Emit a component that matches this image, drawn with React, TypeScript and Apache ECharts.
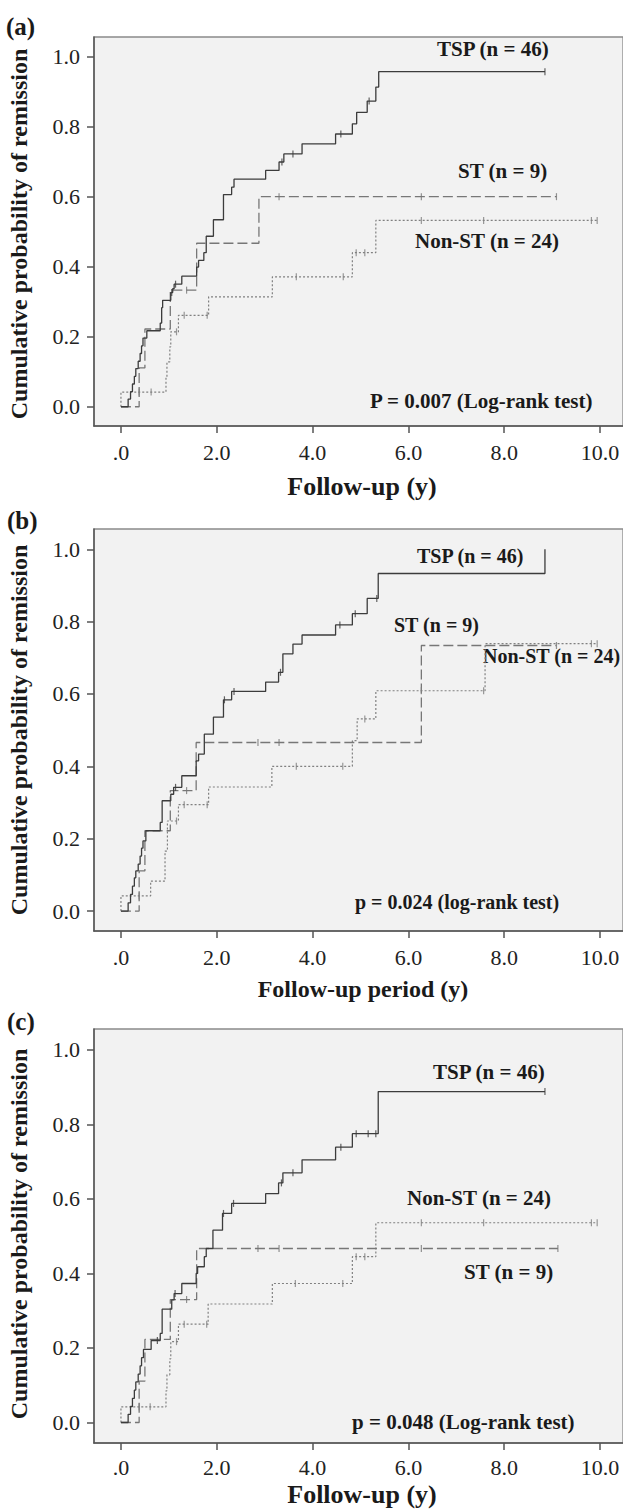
import React, { useEffect, useRef } from 'react';
import * as echarts from 'echarts';

const FONT = "'Liberation Serif', 'Times New Roman', Times, serif";

const xTicks = [0, 2, 4, 6, 8, 10];
const yTicks = [0, 0.2, 0.4, 0.6, 0.8, 1.0];

// ---------- Panel (a) ----------
const tspA = [[0,0],[0.15,0.022],[0.2,0.043],[0.24,0.065],[0.28,0.087],[0.31,0.109],[0.36,0.13],[0.4,0.152],[0.43,0.174],[0.46,0.196],[0.54,0.217],[0.82,0.239],[0.85,0.283],[0.87,0.304],[1.04,0.326],[1.08,0.337],[1.11,0.35],[1.27,0.373],[1.58,0.399],[1.62,0.418],[1.73,0.44],[1.78,0.487],[1.93,0.534],[2.14,0.606],[2.31,0.627],[2.36,0.65],[3.02,0.675],[3.3,0.699],[3.4,0.722],[3.78,0.751],[4.48,0.779],[4.83,0.808],[4.92,0.841],[5.14,0.873],[5.32,0.913],[5.38,0.957],[8.85,0.957]];
const tspACensor = [1.06, 1.14, 3.36, 3.59, 4.59, 5.18, 8.85];
const stA = [[0,0],[0.38,0.111],[0.5,0.222],[1.03,0.333],[1.58,0.467],[2.88,0.6],[9.09,0.6]];
const stACensor = [1.37, 3.3, 6.27, 9.09];
const nonA = [[0,0],[0,0.042],[0.94,0.085],[0.96,0.128],[1.02,0.171],[1.04,0.214],[1.2,0.261],[1.83,0.314],[3.16,0.371],[4.83,0.44],[5.32,0.532],[9.94,0.532]];
const nonACensor = [0.38, 0.63, 1.16, 1.32, 1.8, 3.66, 4.64, 4.91, 5.09, 6.27, 7.57, 9.82, 9.94];

// ---------- Panel (b) ----------
const tspB = [[0,0],[0.15,0.023],[0.2,0.046],[0.24,0.069],[0.28,0.092],[0.31,0.111],[0.36,0.13],[0.4,0.152],[0.43,0.174],[0.46,0.194],[0.52,0.222],[0.82,0.245],[0.86,0.305],[1.04,0.323],[1.1,0.342],[1.27,0.374],[1.57,0.415],[1.62,0.434],[1.74,0.489],[1.93,0.536],[2.14,0.584],[2.31,0.607],[3.02,0.633],[3.29,0.66],[3.38,0.711],[3.59,0.738],[3.78,0.763],[4.48,0.791],[4.83,0.822],[5.14,0.864],[5.37,0.933],[8.85,1.0]];
const tspBCensor = [1.14, 2.16, 2.36, 3.33, 4.57, 4.89, 5.34];
const stB = [[0,0],[0.38,0.111],[0.5,0.222],[1.03,0.333],[1.57,0.466],[6.27,0.734],[9.09,0.734]];
const stBCensor = [1.37, 2.86, 3.3, 9.09];
const nonB = [[0,0],[0,0.042],[0.62,0.083],[0.92,0.166],[0.97,0.249],[1.2,0.294],[1.83,0.343],[3.15,0.4],[4.83,0.471],[4.93,0.531],[5.32,0.609],[7.6,0.739],[9.94,0.739]];
const nonBCensor = [0.38, 1.16, 1.32, 1.8, 3.66, 4.63, 5.09, 6.27, 7.57, 9.82, 9.94];

// ---------- Panel (c) ----------
const tspC = [[0,0],[0.15,0.022],[0.2,0.043],[0.24,0.065],[0.28,0.087],[0.31,0.109],[0.36,0.13],[0.4,0.152],[0.43,0.174],[0.47,0.196],[0.63,0.22],[0.82,0.239],[0.86,0.304],[1.06,0.329],[1.11,0.346],[1.27,0.373],[1.57,0.4],[1.6,0.418],[1.74,0.445],[1.78,0.467],[1.92,0.516],[2.12,0.561],[2.31,0.588],[3.02,0.614],[3.29,0.643],[3.38,0.67],[3.78,0.705],[4.48,0.739],[4.83,0.775],[5.37,0.888],[8.85,0.888]];
const tspCCensor = [0.76, 1.13, 2.14, 2.35, 3.35, 3.59, 4.59, 4.91, 5.16, 5.32, 8.85];
const stC = [[0,0],[0.38,0.111],[0.5,0.223],[1.03,0.33],[1.58,0.467],[9.12,0.467]];
const stCCensor = [1.37, 2.86, 3.3, 6.27, 9.12];
const nonC = [[0,0],[0,0.042],[0.94,0.085],[0.96,0.128],[1.02,0.171],[1.04,0.217],[1.2,0.264],[1.82,0.318],[3.16,0.373],[4.83,0.445],[5.32,0.536],[9.94,0.536]];
const nonCCensor = [0.38, 0.61, 1.16, 1.32, 1.79, 3.64, 4.63, 4.91, 5.09, 6.27, 7.57, 9.82, 9.94];

const xTitles = ['Follow-up (y)', 'Follow-up period (y)', 'Follow-up (y)'];
const yTitle = 'Cumulative probability of remission';
const panelLabels = ['(a)', '(b)', '(c)'];
const pTexts = ['P = 0.007 (Log-rank test)', 'p = 0.024 (log-rank test)', 'p = 0.048 (Log-rank test)'];
const groupNames = ['TSP (n = 46)', 'ST (n = 9)', 'Non-ST (n = 24)'];

const X_MIN = -0.5625;
const X_MAX = 10.479;
const Y_MIN = -0.055;
const Y_MAX = 1.056;

const styles = {
  tsp: { color: '#3c3c3c', width: 1.3, type: 'solid' as any },
  st: { color: '#777777', width: 1.3, type: [10, 4] as any },
  non: { color: '#808080', width: 1.2, type: [2, 2] as any },
};

function stepValue(data: number[][], t: number) {
  let v = data[0][1];
  for (const [x, y] of data) if (x <= t) v = y;
  return v;
}

export default function App() {
  const ref = useRef<HTMLDivElement>(null);
  useEffect(() => {
    document.body.style.margin = '0';
    if (!ref.current) return;
    const chart = echarts.init(ref.current, null, { renderer: 'svg', width: 623, height: 1511 });

    const panels = [
      { top: 37, height: 389, curves: [[tspA, tspACensor, 'tsp'], [stA, stACensor, 'st'], [nonA, nonACensor, 'non']] },
      { top: 529, height: 402, curves: [[tspB, tspBCensor, 'tsp'], [stB, stBCensor, 'st'], [nonB, nonBCensor, 'non']] },
      { top: 1029, height: 414, curves: [[tspC, tspCCensor, 'tsp'], [stC, stCCensor, 'st'], [nonC, nonCCensor, 'non']] },
    ];

    const grid: any[] = [];
    const xAxis: any[] = [];
    const yAxis: any[] = [];
    const series: any[] = [];

    panels.forEach((p, i) => {
      grid.push({
        left: 94, top: p.top, width: 530, height: p.height,
        show: true, backgroundColor: '#f2f2f2', borderColor: '#8a8a8a', borderWidth: 1.3,
      });
      xAxis.push({
        type: 'value', gridIndex: i, min: X_MIN, max: X_MAX,
        axisLine: { show: true, onZero: false, lineStyle: { color: '#555', width: 1.5 } },
        axisTick: { show: true, length: 7, customValues: xTicks, lineStyle: { color: '#555', width: 1.5 } },
        axisLabel: {
          customValues: xTicks, fontSize: 22, fontFamily: FONT, color: '#222', margin: i === 2 ? 13 : 15,
          formatter: (v: number) => (v === 0 ? '.0' : v.toFixed(1)),
        },
        splitLine: { show: false },
      });
      yAxis.push({
        type: 'value', gridIndex: i, min: Y_MIN, max: Y_MAX,
        axisLine: { show: true, onZero: false, lineStyle: { color: '#555', width: 1.5 } },
        axisTick: { show: true, length: 7, customValues: yTicks, lineStyle: { color: '#555', width: 1.5 } },
        axisLabel: {
          customValues: yTicks, fontSize: 22, fontFamily: FONT, color: '#222', margin: 14,
          formatter: (v: number) => v.toFixed(1),
        },
        splitLine: { show: false },
      });
      [...p.curves].reverse().forEach(([data, censor, kind]: any) => {
        const st = (styles as any)[kind];
        series.push({
          type: 'line', xAxisIndex: i, yAxisIndex: i, step: 'end', data,
          showSymbol: false, symbol: 'none', lineStyle: { color: st.color, width: st.width, type: st.type },
          z: kind === 'tsp' ? 5 : 3, silent: true,
        });
        series.push({
          type: 'scatter', xAxisIndex: i, yAxisIndex: i,
          data: censor.map((t: number) => [t, stepValue(data, t)]),
          symbol: 'rect', symbolSize: [1.2, 7], itemStyle: { color: st.color },
          z: kind === 'tsp' ? 6 : 4, silent: true,
        });
      });
    });

    const txt = (text: string, x: number, y: number, size: number, opts: any = {}) => ({
      type: 'text', x, y, rotation: opts.rotation || 0, silent: true,
      style: {
        text, font: `bold ${size}px ${FONT}`, fill: '#1a1a1a',
        align: opts.align || 'left', verticalAlign: 'middle',
        textAlign: opts.align || 'left', textVerticalAlign: 'middle',
      },
    });

    const graphic: any[] = [];
    graphic.push(txt(panelLabels[0], 6, 26, 25));
    graphic.push(txt(panelLabels[1], 7, 520, 25));
    graphic.push(txt(panelLabels[2], 7, 1021, 25));
    graphic.push(txt(yTitle, 19, 234, 24, { rotation: Math.PI / 2, align: 'center' }));
    graphic.push(txt(yTitle, 19, 730, 24, { rotation: Math.PI / 2, align: 'center' }));
    graphic.push(txt(yTitle, 19, 1234, 24, { rotation: Math.PI / 2, align: 'center' }));
    graphic.push(txt(xTitles[0], 362, 486, 26, { align: 'center' }));
    graphic.push(txt(xTitles[1], 363, 989, 24, { align: 'center' }));
    graphic.push(txt(xTitles[2], 362, 1494, 26, { align: 'center' }));
    graphic.push(txt(groupNames[0], 437, 49, 21));
    graphic.push(txt(groupNames[1], 458, 171, 21));
    graphic.push(txt(groupNames[2], 415, 241, 21));
    graphic.push(txt(pTexts[0], 370, 401, 21));
    graphic.push(txt(groupNames[0], 417, 556, 20));
    graphic.push(txt(groupNames[1], 394, 625, 20));
    graphic.push(txt(groupNames[2], 483, 656, 20));
    graphic.push(txt(pTexts[1], 355, 902, 20));
    graphic.push(txt(groupNames[0], 433, 1072, 21));
    graphic.push(txt(groupNames[2], 407, 1198, 21));
    graphic.push(txt(groupNames[1], 464, 1272, 21));
    graphic.push(txt(pTexts[2], 352, 1422, 21));

    chart.setOption({
      animation: false,
      backgroundColor: '#ffffff',
      grid, xAxis, yAxis, series, graphic,
    });
    return () => chart.dispose();
  }, []);
  return <div ref={ref} style={{ position: 'absolute', left: 0, top: 0, width: 623, height: 1511 }} />;
}
